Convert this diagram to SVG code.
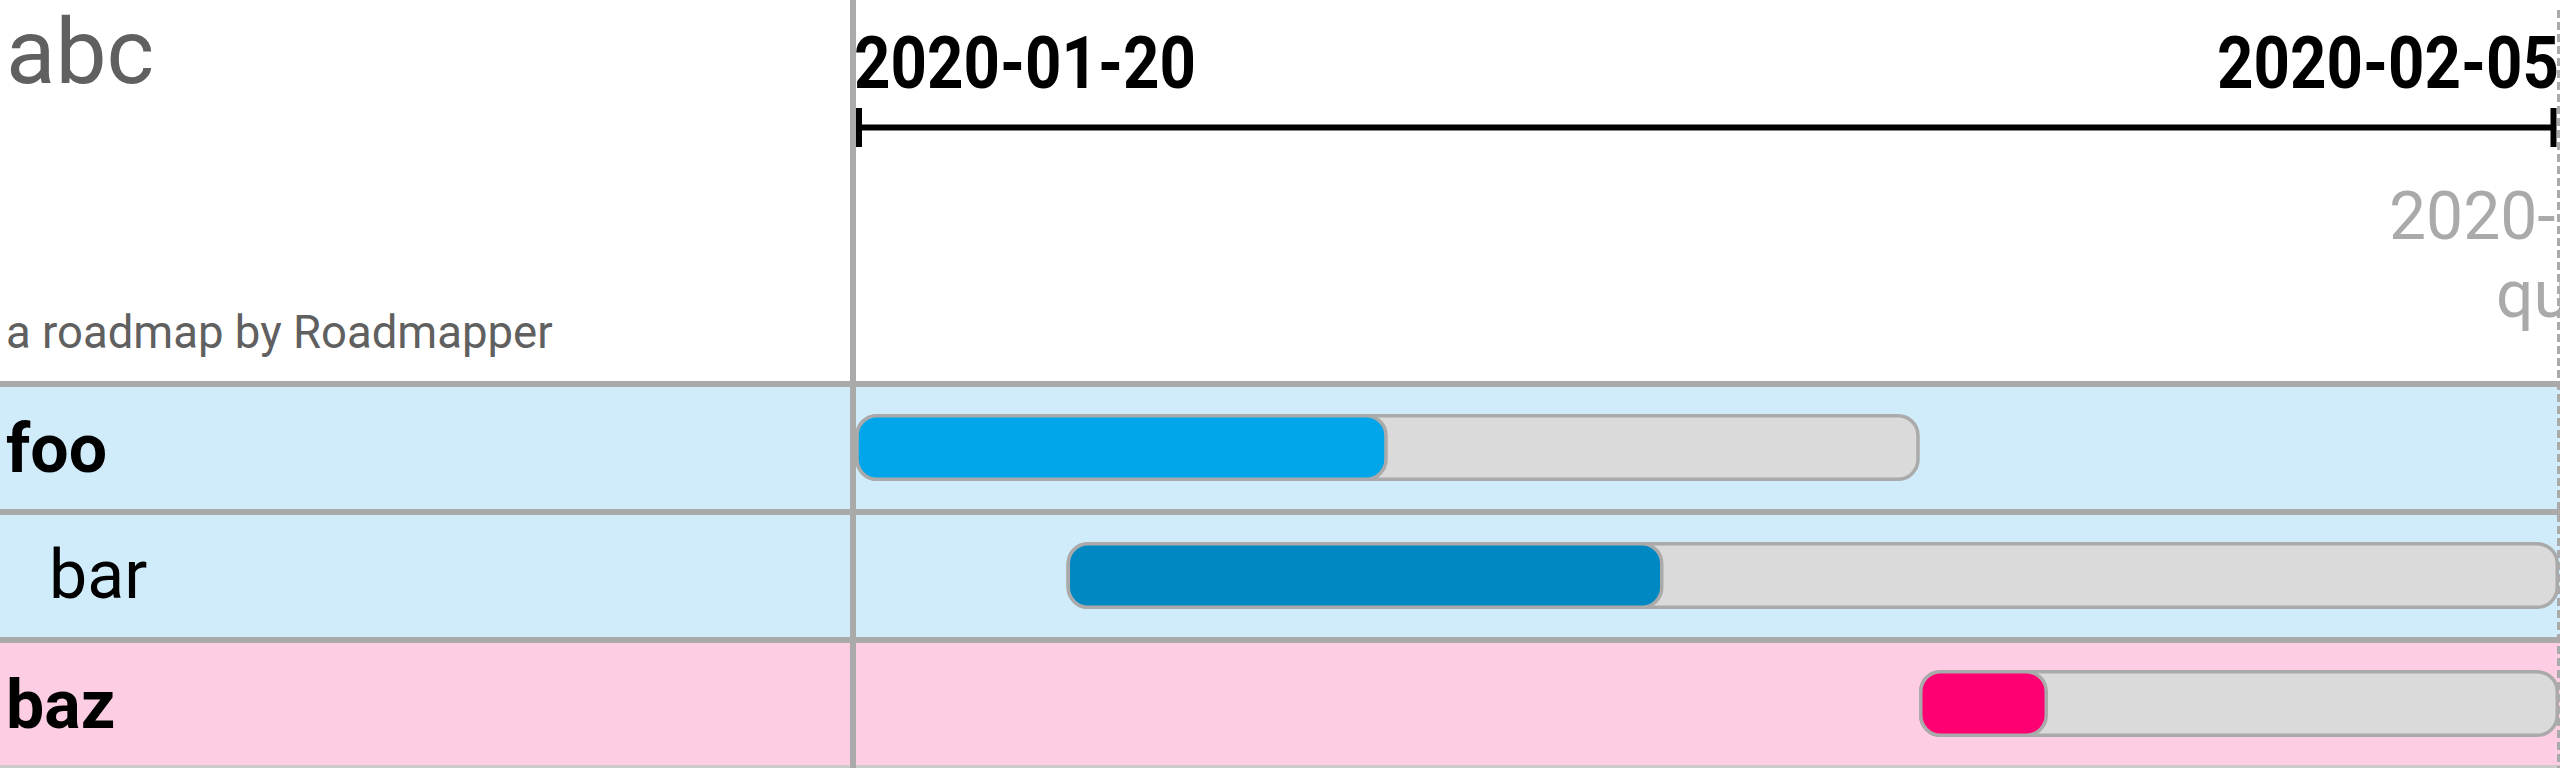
<svg xmlns="http://www.w3.org/2000/svg" width="2560" height="768" viewBox="0 0 2560 768">
  <style>
    .t { font-family: Roboto, "Liberation Sans", sans-serif; }
    .gray { fill: #606060; }
    .lbl { font-size: 68px; fill: #000; }
    .b { font-weight: bold; }
    .date { font-size: 72px; font-weight: bold; fill: #000; }
    .ms { font-size: 66px; fill: #aaaaaa; }
    .track { fill: #dadada; stroke: #aaaaaa; stroke-width: 3.5; }
    .prog { stroke: #aaaaaa; stroke-width: 3.5; }
    .sep { fill: #aaaaaa; }
    .axis { stroke: #000; stroke-width: 6; fill: none; }
  </style>
  <rect x="0" y="0" width="2560" height="768" fill="#ffffff"/>

  <g id="header">
    <text class="t gray" x="6" y="83" font-size="91">abc</text>
    <text class="t gray" x="6" y="348" font-size="45.5">a roadmap by Roadmapper</text>
  </g>

  <g id="row-foo">
    <rect x="0" y="384" width="2560" height="128" fill="#d0ecfa"/>
    <rect class="track" x="857" y="415.75" width="1061" height="63.5" rx="20"/>
    <rect class="prog" x="857" y="415.75" width="529" height="63.5" rx="20" fill="#00a5ea"/>
    <text class="t lbl b" x="6" y="472">foo</text>
  </g>

  <g id="row-bar">
    <rect x="0" y="512" width="2560" height="128" fill="#d0ecfa"/>
    <rect class="track" x="1068.25" y="543.75" width="1489" height="63.5" rx="20"/>
    <rect class="prog" x="1068.25" y="543.75" width="593.5" height="63.5" rx="20" fill="#0088c2"/>
    <text class="t lbl" x="49" y="598">bar</text>
  </g>

  <g id="row-baz">
    <rect x="0" y="640" width="2560" height="128" fill="#fdcde3"/>
    <rect class="track" x="1920.75" y="671.75" width="636.5" height="63.5" rx="20"/>
    <rect class="prog" x="1920.75" y="671.75" width="125.5" height="63.5" rx="20" fill="#ff0073"/>
    <text class="t lbl b" x="6" y="728">baz</text>
  </g>

  <g id="grid">
    <rect class="sep" x="0" y="381" width="2560" height="6"/>
    <rect class="sep" x="0" y="509" width="2560" height="6"/>
    <rect class="sep" x="0" y="637" width="2560" height="6"/>
    <rect x="0" y="765" width="2560" height="3" fill="#cccccc"/>
    <rect class="sep" x="850" y="0" width="6" height="768"/>
  </g>

  <g id="timeline">
    <text class="t date" x="854" y="88" textLength="342" lengthAdjust="spacingAndGlyphs">2020-01-20</text>
    <text class="t date" x="2559" y="88" text-anchor="end" textLength="342" lengthAdjust="spacingAndGlyphs">2020-02-05</text>
    <line class="axis" x1="859" y1="127.5" x2="2553.5" y2="127.5" stroke-width="5"/>
    <line class="axis" x1="859" y1="108" x2="859" y2="147"/>
    <line class="axis" x1="2553.5" y1="108" x2="2553.5" y2="147"/>
  </g>

  <g id="milestone">
    <line x1="2558.5" y1="10" x2="2558.5" y2="768" stroke="#aaaaaa" stroke-width="3" stroke-dasharray="8 4"/>
    <text class="t ms" x="2389" y="239">2020-</text>
    <text class="t ms" x="2496" y="317">qu</text>
  </g>
</svg>
